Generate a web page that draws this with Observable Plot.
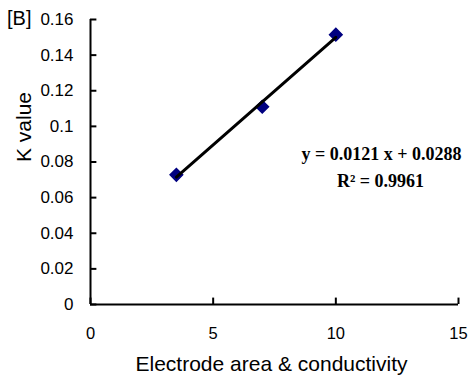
<!DOCTYPE html>
<html>
<head>
<meta charset="utf-8">
<script src="https://cdn.jsdelivr.net/npm/d3@7"></script>
<script src="https://cdn.jsdelivr.net/npm/@observablehq/plot@0.6"></script>
<style>
  html, body { margin: 0; padding: 0; background: #fff; }
  #chart { position: relative; width: 468px; height: 383px; }
  #panel { position: absolute; left: 7px; top: 7px; font: 20px "Liberation Sans", Arial, sans-serif; color: #000; line-height: 1.15; }
</style>
</head>
<body>
<div id="chart"><div id="panel">[B]</div></div>
<script>
const xValues = [3.5, 7, 10];
const kValues = [0.0728, 0.111, 0.1515];
const xTicks = [0, 5, 10, 15];
const yTicks = [0, 0.02, 0.04, 0.06, 0.08, 0.1, 0.12, 0.14, 0.16];
const equationText = "y = 0.0121 x + 0.0288";
const r2Text = "R² = 0.9961";

const points = xValues.map((x, i) => ({x, k: kValues[i]}));
const serif = "'Liberation Serif', 'Times New Roman', serif";

const plot = Plot.plot({
  width: 468,
  height: 383,
  marginLeft: 90,
  marginRight: 10,
  marginTop: 19,
  marginBottom: 79,
  style: {fontFamily: "'Liberation Sans', Arial, sans-serif", fontSize: "17px", background: "#fff", color: "#000"},
  x: {domain: [0, 15], axis: null},
  y: {domain: [0, 0.16], axis: null},
  marks: [
    Plot.text(yTicks, {x: () => 0, y: d => d, text: d => String(d), textAnchor: "end", dx: -17, fontSize: 17}),
    Plot.text(xTicks, {x: d => d, y: () => 0, text: d => String(d), dy: 29, fontSize: 16.5}),
    Plot.ruleY(yTicks, {x1: 0, x2: 0.26, strokeWidth: 2}),
    Plot.ruleX(xTicks, {y1: 0, y2: 0.0036, strokeWidth: 2}),
    Plot.ruleX([0], {strokeWidth: 2}),
    Plot.ruleY([0], {strokeWidth: 2}),
    Plot.text(["K value"], {frameAnchor: "left", dx: -66, rotate: -90, fontSize: 21}),
    Plot.text(["Electrode area & conductivity"], {frameAnchor: "bottom", dx: -3, dy: 66, fontSize: 21}),
    Plot.dot(points, {x: "x", y: "k", symbol: "square", rotate: 45, r: 5, fill: "#000080", stroke: "#000080"}),
    Plot.linearRegressionY(points, {x: "x", y: "k", stroke: "#000", strokeWidth: 3, ci: 0}),
    Plot.text([equationText], {frameAnchor: "top-right", dx: -77, dy: 128, fontFamily: serif, fontWeight: "bold", fontSize: 18, textAnchor: "middle"}),
    Plot.text([r2Text], {frameAnchor: "top-right", dx: -78, dy: 155, fontFamily: serif, fontWeight: "bold", fontSize: 18, textAnchor: "middle"})
  ]
});
document.getElementById("chart").appendChild(plot);
</script>
</body>
</html>
